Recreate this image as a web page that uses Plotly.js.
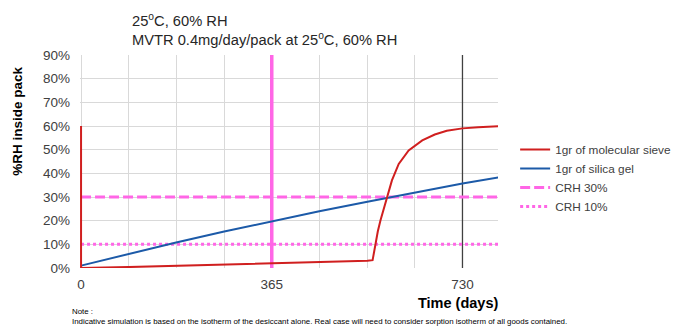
<!DOCTYPE html>
<html>
<head>
<meta charset="utf-8">
<script src="https://cdn.plot.ly/plotly-3.0.1.min.js"></script>
<style>html,body{margin:0;padding:0;background:#fff;}#chart{width:673px;height:331px;}</style>
</head>
<body>
<div id="chart"></div>
<script>
// Data
const sieveDays   = [0, 0, 91, 182, 274, 365, 456, 548, 558, 563, 568, 573, 580, 586, 595, 608, 627, 653, 677, 700, 730, 760, 800];
const sieveRH     = [60, 0, 0.4, 0.9, 1.5, 2.1, 2.6, 3.1, 3.3, 10.3, 15.5, 20.1, 25.5, 29.7, 37, 44, 49.7, 53.9, 56.4, 58.0, 59.0, 59.5, 59.9];
const silicaDays  = [0, 91, 182, 274, 365, 456, 548, 639, 730, 800];
const silicaRH    = [1, 6, 10.8, 15.4, 19.8, 24, 28, 32, 35.7, 38.3];
const crhDays     = [0, 800];
const crh30       = [30, 30];
const crh10       = [10, 10];
const markDay1    = [365, 365];
const markDay2    = [730, 730];
const markRH      = [0, 90];
const gridDays    = [0, 91.25, 182.5, 273.75, 365, 456.25, 547.5, 638.75, 730];
const gridLabels  = ['0', '', '', '', '365', '', '', '', '730'];

const pink = '#ff66e6';
const traces = [
  {x: markDay1, y: markRH, mode: 'lines', line: {color: pink, width: 3.5}, showlegend: false, hoverinfo: 'skip'},
  {x: markDay2, y: markRH, mode: 'lines', line: {color: '#404040', width: 1.3}, showlegend: false, hoverinfo: 'skip'},
  {x: crhDays, y: crh10, mode: 'lines', name: 'CRH 10%', line: {color: pink, width: 3, dash: 'dot'}},
  {x: crhDays, y: crh30, mode: 'lines', name: 'CRH 30%', line: {color: pink, width: 3, dash: '10px,4px'}},
  {x: silicaDays, y: silicaRH, mode: 'lines', name: '1gr of silica gel', line: {color: '#1c5aa8', width: 2}},
  {x: sieveDays, y: sieveRH, mode: 'lines', name: '1gr of molecular sieve', line: {color: '#d01f1f', width: 2}}
];

const layout = {
  width: 673, height: 331,
  margin: {l: 80, r: 175, t: 55, b: 63, autoexpand: false},
  paper_bgcolor: '#fff', plot_bgcolor: '#fff',
  font: {family: 'Arial, Liberation Sans, sans-serif', color: '#404040'},
  xaxis: {
    range: [-2, 798], tickmode: 'array', tickvals: gridDays, ticktext: gridLabels,
    showgrid: true, gridcolor: '#d9d9d9', gridwidth: 1, zeroline: false, showline: false,
    ticks: '', ticklabelstandoff: 6, tickfont: {size: 13.5, color: '#404040'}
  },
  yaxis: {
    range: [0, 90], dtick: 10, ticksuffix: '%',
    showgrid: true, gridcolor: '#d9d9d9', gridwidth: 1, zeroline: false, showline: false,
    ticks: '', ticklabelstandoff: 9, tickfont: {size: 13.5, color: '#404040'}
  },
  legend: {
    x: 1.041, xanchor: 'left', y: 0.625, yanchor: 'top',
    traceorder: 'reversed', font: {size: 11.8, color: '#404040'},
    bgcolor: 'rgba(0,0,0,0)', tracegroupgap: 0
  },
  showlegend: true,
  annotations: [
    {text: '25<sup>o</sup>C, 60% RH<br>MVTR 0.4mg/day/pack at 25<sup>o</sup>C, 60% RH',
     xref: 'paper', yref: 'paper', x: 0.12, y: 1.218, xanchor: 'left', yanchor: 'top', align: 'left',
     showarrow: false, font: {size: 14.7, color: '#262626'}},
    {text: '<b>%RH inside pack</b>', textangle: -90, xref: 'paper', yref: 'paper',
     x: -0.15, y: 0.688, xanchor: 'center', yanchor: 'middle', showarrow: false,
     font: {size: 13.5, color: '#000'}},
    {text: '<b>Time (days)</b>', xref: 'paper', yref: 'paper',
     x: 0.904, y: -0.162, xanchor: 'center', yanchor: 'middle', showarrow: false,
     font: {size: 14.5, color: '#000'}},
    {text: 'Note :<br>Indicative simulation is based on the isotherm of the desiccant alone. Real case will need to consider sorption isotherm of all goods contained.',
     xref: 'paper', yref: 'paper', x: -0.024, y: -0.175, xanchor: 'left', yanchor: 'top', align: 'left',
     showarrow: false, font: {size: 7.9, color: '#000'}}
  ]
};

Plotly.newPlot('chart', traces, layout, {displayModeBar: false, staticPlot: true});
</script>
</body>
</html>
